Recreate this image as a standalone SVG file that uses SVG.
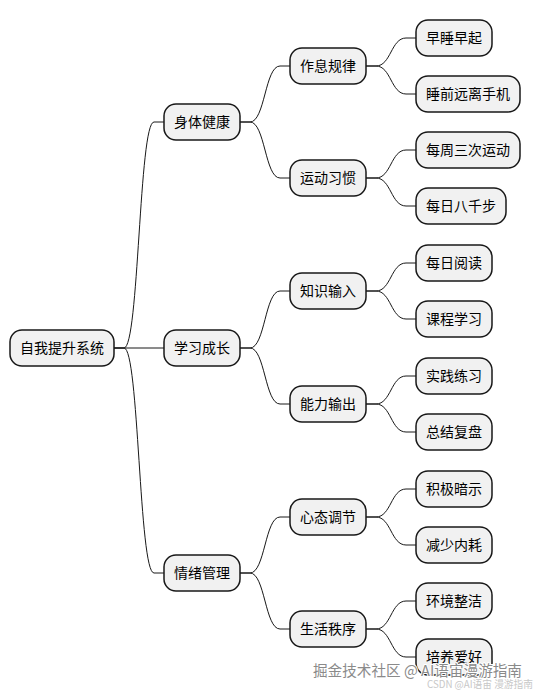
<svg xmlns="http://www.w3.org/2000/svg" width="539" height="695" viewBox="0 0 539 695">
<style>
.n rect{fill:#F1F1F1;stroke:#181818;stroke-width:1.5}
.n text{font-family:"Noto Sans CJK SC","Liberation Sans",sans-serif;font-size:14px;fill:#000;text-anchor:middle}
#edges path{fill:none;stroke:#181818;stroke-width:1}
.wm{font-family:"Noto Sans CJK SC","Liberation Sans",sans-serif}
</style>
<rect width="539" height="695" fill="#fff"/>
<g id="edges">
<path d="M114,348 L124,348 C139,348 139,122 154,122 L164,122"/>
<path d="M114,348 L164,348"/>
<path d="M114,348 L124,348 C139,348 139,573 154,573 L164,573"/>
<path d="M240,122 L250,122 C265,122 265,66 280,66 L290,66"/>
<path d="M240,122 L250,122 C265,122 265,178 280,178 L290,178"/>
<path d="M240,348 L250,348 C265,348 265,291 280,291 L290,291"/>
<path d="M240,348 L250,348 C265,348 265,404 280,404 L290,404"/>
<path d="M240,573 L250,573 C265,573 265,517 280,517 L290,517"/>
<path d="M240,573 L250,573 C265,573 265,629 280,629 L290,629"/>
<path d="M366,66 L376,66 C391,66 391,38 406,38 L416,38"/>
<path d="M366,66 L376,66 C391,66 391,94 406,94 L416,94"/>
<path d="M366,178 L376,178 C391,178 391,150 406,150 L416,150"/>
<path d="M366,178 L376,178 C391,178 391,206 406,206 L416,206"/>
<path d="M366,291 L376,291 C391,291 391,263 406,263 L416,263"/>
<path d="M366,291 L376,291 C391,291 391,319 406,319 L416,319"/>
<path d="M366,404 L376,404 C391,404 391,376 406,376 L416,376"/>
<path d="M366,404 L376,404 C391,404 391,432 406,432 L416,432"/>
<path d="M366,517 L376,517 C391,517 391,489 406,489 L416,489"/>
<path d="M366,517 L376,517 C391,517 391,545 406,545 L416,545"/>
<path d="M366,629 L376,629 C391,629 391,601 406,601 L416,601"/>
<path d="M366,629 L376,629 C391,629 391,657 406,657 L416,657"/>
</g>
<g id="root" class="n"><rect x="10" y="330" width="104" height="36" rx="12"/><text x="62" y="353">自我提升系统</text></g>
<g id="n1" class="n"><rect x="164" y="104" width="76" height="36" rx="12"/><text x="202" y="127">身体健康</text></g>
<g id="n2" class="n"><rect x="164" y="330" width="76" height="36" rx="12"/><text x="202" y="353">学习成长</text></g>
<g id="n3" class="n"><rect x="164" y="555" width="76" height="36" rx="12"/><text x="202" y="578">情绪管理</text></g>
<g id="n11" class="n"><rect x="290" y="48" width="76" height="36" rx="12"/><text x="328" y="71">作息规律</text></g>
<g id="n12" class="n"><rect x="290" y="160" width="76" height="36" rx="12"/><text x="328" y="183">运动习惯</text></g>
<g id="n21" class="n"><rect x="290" y="273" width="76" height="36" rx="12"/><text x="328" y="296">知识输入</text></g>
<g id="n22" class="n"><rect x="290" y="386" width="76" height="36" rx="12"/><text x="328" y="409">能力输出</text></g>
<g id="n31" class="n"><rect x="290" y="499" width="76" height="36" rx="12"/><text x="328" y="522">心态调节</text></g>
<g id="n32" class="n"><rect x="290" y="611" width="76" height="36" rx="12"/><text x="328" y="634">生活秩序</text></g>
<g id="n111" class="n"><rect x="416" y="20" width="76" height="36" rx="12"/><text x="454" y="43">早睡早起</text></g>
<g id="n112" class="n"><rect x="416" y="76" width="104" height="36" rx="12"/><text x="468" y="99">睡前远离手机</text></g>
<g id="n121" class="n"><rect x="416" y="132" width="104" height="36" rx="12"/><text x="468" y="155">每周三次运动</text></g>
<g id="n122" class="n"><rect x="416" y="188" width="90" height="36" rx="12"/><text x="461" y="211">每日八千步</text></g>
<g id="n211" class="n"><rect x="416" y="245" width="76" height="36" rx="12"/><text x="454" y="268">每日阅读</text></g>
<g id="n212" class="n"><rect x="416" y="301" width="76" height="36" rx="12"/><text x="454" y="324">课程学习</text></g>
<g id="n221" class="n"><rect x="416" y="358" width="76" height="36" rx="12"/><text x="454" y="381">实践练习</text></g>
<g id="n222" class="n"><rect x="416" y="414" width="76" height="36" rx="12"/><text x="454" y="437">总结复盘</text></g>
<g id="n311" class="n"><rect x="416" y="471" width="76" height="36" rx="12"/><text x="454" y="494">积极暗示</text></g>
<g id="n312" class="n"><rect x="416" y="527" width="76" height="36" rx="12"/><text x="454" y="550">减少内耗</text></g>
<g id="n321" class="n"><rect x="416" y="583" width="76" height="36" rx="12"/><text x="454" y="606">环境整洁</text></g>
<g id="n322" class="n"><rect x="416" y="639" width="76" height="36" rx="12"/><text x="454" y="662">培养爱好</text></g>
<text class="wm" x="313" y="676" font-size="15" textLength="209" lengthAdjust="spacingAndGlyphs" fill="#8a8a8a" stroke="#fff" stroke-width="2" paint-order="stroke">掘金技术社区 @ AI语宙漫游指南</text>
<text class="wm" x="427" y="688" font-size="10" textLength="106" lengthAdjust="spacingAndGlyphs" fill="#c8c8c8">CSDN @AI语宙 漫游指南</text>
</svg>
